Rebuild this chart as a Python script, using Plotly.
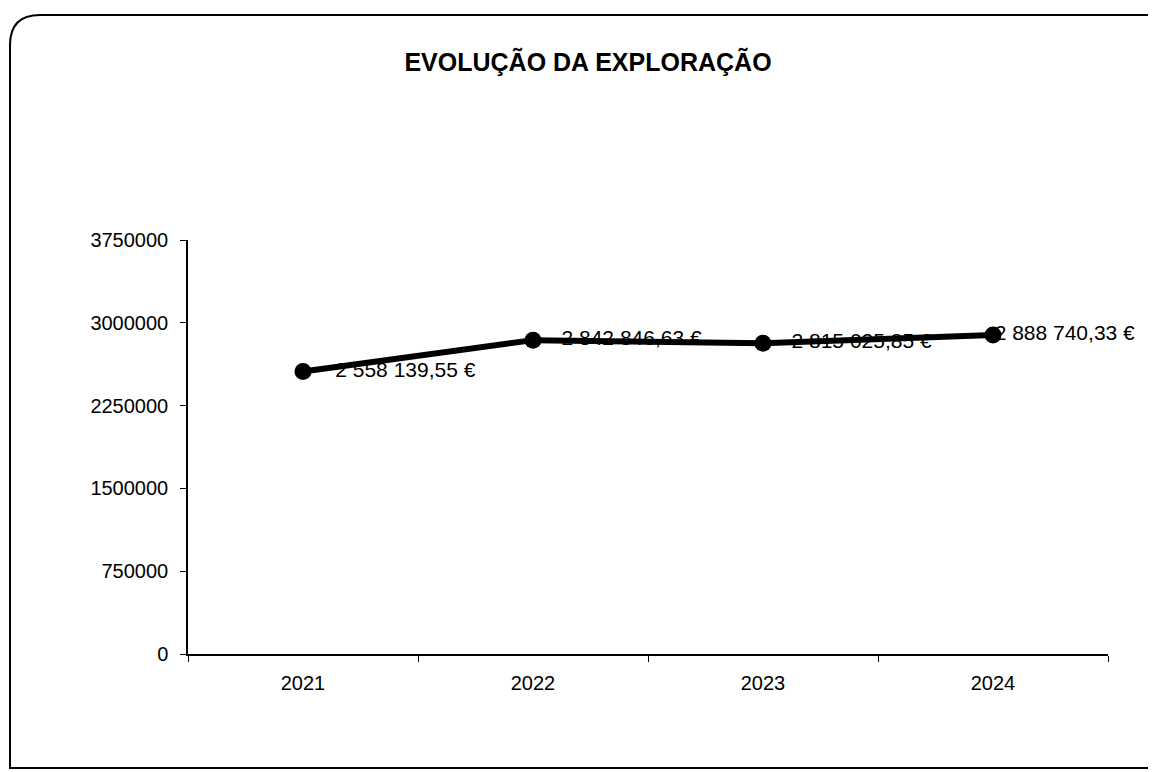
import plotly.graph_objects as go

years = ["2021", "2022", "2023", "2024"]
values = [2558139.55, 2842846.63, 2815025.85, 2888740.33]
labels = ["2 558 139,55 €", "2 842 846,63 €", "2 815 025,85 €", "2 888 740,33 €"]
y_ticks = [0, 750000, 1500000, 2250000, 3000000, 3750000]

# page body has an 8px margin, so the figure is 8px smaller than the window
W, H = 1148, 764
L, R, T, B = 180, 48, 232, 118
pw, ph = W - L - R, H - T - B

def px(x):
    return (x - L) / pw

def py(y):
    return (H - B - y) / ph

FONT = "Liberation Sans, Arial, sans-serif"

fig = go.Figure()
# data labels (invisible markers control the label offset)
fig.add_trace(go.Scatter(
    x=years, y=values, mode="markers+text", text=labels,
    textposition="middle right",
    textfont=dict(family=FONT, size=21, color="black"),
    marker=dict(size=[50, 44, 44, 1], color="rgba(0,0,0,0)", line=dict(width=0)),
    hoverinfo="skip", showlegend=False, cliponaxis=False,
))
fig.add_trace(go.Scatter(
    x=years, y=values, mode="lines+markers",
    line=dict(color="black", width=6),
    marker=dict(color="black", size=17, line=dict(width=0)),
    hoverinfo="skip", showlegend=False, cliponaxis=False,
))

# rounded border
x0, x1, y0, y1, r = 2, 1160, 7, 760, 30
path = (f"M {px(x0+r)},{py(y0)} L {px(x1)},{py(y0)} L {px(x1)},{py(y1)} "
        f"L {px(x0)},{py(y1)} L {px(x0)},{py(y0+r)} "
        f"Q {px(x0)},{py(y0)} {px(x0+r)},{py(y0)} Z")
fig.add_shape(type="path", path=path, xref="paper", yref="paper",
              line=dict(color="black", width=2), layer="below")

fig.update_layout(
    width=W, height=H,
    margin=dict(l=L, r=R, t=T, b=B),
    paper_bgcolor="white", plot_bgcolor="white",
    title=dict(text="<b>EVOLUÇÃO DA EXPLORAÇÃO</b>", x=(580) / W, xanchor="center",
               y=1 - 54 / H, yanchor="middle",
               font=dict(family=FONT, size=25, color="black")),
    font=dict(family=FONT, size=20, color="black"),
)
fig.update_xaxes(type="category", range=[-0.5, 3.5], showgrid=False,
                 showline=True, linecolor="black", linewidth=1.5,
                 ticks="outside", tickson="boundaries", ticklen=6, tickcolor="black",
                 zeroline=False, tickfont=dict(family=FONT, size=20),
                 ticklabelstandoff=10)
fig.update_yaxes(range=[0, 3750000], tickvals=y_ticks, ticktext=[str(v) for v in y_ticks],
                 showgrid=False, showline=True, linecolor="black", linewidth=1.5,
                 ticks="outside", ticklen=6, tickcolor="black", zeroline=False,
                 tickfont=dict(family=FONT, size=20), ticklabelstandoff=8)

fig.write_html("out.html")
